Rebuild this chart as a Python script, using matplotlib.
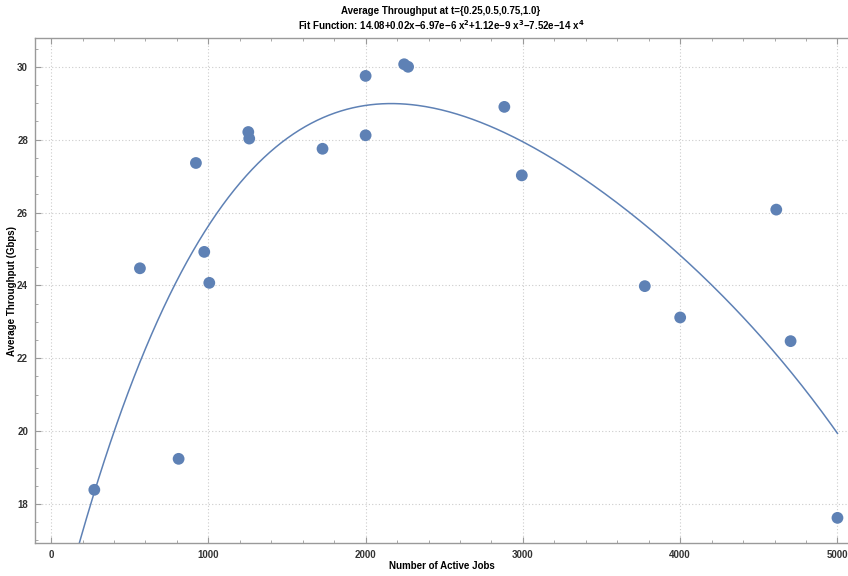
import numpy as np
import matplotlib
matplotlib.use("Agg")
import matplotlib.pyplot as plt
from matplotlib.ticker import MultipleLocator

plt.rcParams['font.family'] = ['Liberation Sans', 'DejaVu Sans']
plt.rcParams['mathtext.default'] = 'bf'

# data
active_jobs = [275, 565, 811, 921, 974, 1006, 1254, 1260, 1726, 2000, 2000,
               2245, 2270, 2882, 2993, 3775, 4000, 4611, 4702, 5000]
throughput = [18.39, 24.47, 19.24, 27.36, 24.92, 24.07, 28.21, 28.03, 27.75,
              29.75, 28.12, 30.07, 30.0, 28.9, 27.02, 23.98, 23.12, 26.08,
              22.47, 17.62]

title = "Average Throughput at t={0.25,0.5,0.75,1.0}"
fit_text = ("Fit Function: 14.08+0.02x\u22126.97e\u22126 x$^2$+1.12e\u22129 x$^3$"
            "\u22127.52e\u221214 x$^4$")

blue = "#5E81B5"
frame = "#9a9a9a"

# quartic least-squares fit, like the original
coef = np.polyfit(active_jobs, throughput, 4)
xs = np.linspace(0, 5000, 400)
ys = np.polyval(coef, xs)

fig = plt.figure(figsize=(8.48, 5.76), dpi=100)
ax = fig.add_axes([0.0413, 0.0573, 0.9587, 0.8767])

ax.plot(xs, ys, color=blue, lw=1.1, zorder=2)
ax.scatter(active_jobs, throughput, s=72, color=blue, edgecolors='none', zorder=3)

ax.set_xlim(-102, 5067)
ax.set_ylim(16.93, 30.79)

ax.xaxis.set_major_locator(MultipleLocator(1000))
ax.xaxis.set_minor_locator(MultipleLocator(200))
ax.yaxis.set_major_locator(MultipleLocator(2))
ax.yaxis.set_minor_locator(MultipleLocator(0.5))

ax.grid(True, which='major', color='#cccccc', lw=0.8, ls=(0, (1, 2)))
ax.set_axisbelow(True)

for side in ['left', 'bottom', 'top']:
    ax.spines[side].set_color(frame)
    ax.spines[side].set_linewidth(1.0)
ax.spines['right'].set_visible(False)

ax.tick_params(which='both', direction='in', color=frame, top=True,
               labelsize=7, labelcolor='#333333', pad=5)
ax.tick_params(which='major', length=4)
ax.tick_params(which='minor', length=2.5)
ax.tick_params(axis='x', labeltop=False)
for lab in ax.get_xticklabels() + ax.get_yticklabels():
    lab.set_fontweight('bold')

ax.set_xlabel("Number of Active Jobs", fontsize=7, fontweight='bold')
ax.set_ylabel("Average Throughput (Gbps)", fontsize=7, fontweight='bold')
ax.xaxis.set_label_coords(0.5, -0.046)
ax.yaxis.set_label_coords(-0.028, 0.5)
ax.xaxis.label.set_va('center')
ax.yaxis.label.set_va('center')

fig.text(0.52, 0.981, title, ha='center', va='center', fontsize=7, fontweight='bold')
fig.text(0.52, 0.957, fit_text, ha='center', va='center', fontsize=7, fontweight='bold')

fig.savefig("out.png", dpi=100)
